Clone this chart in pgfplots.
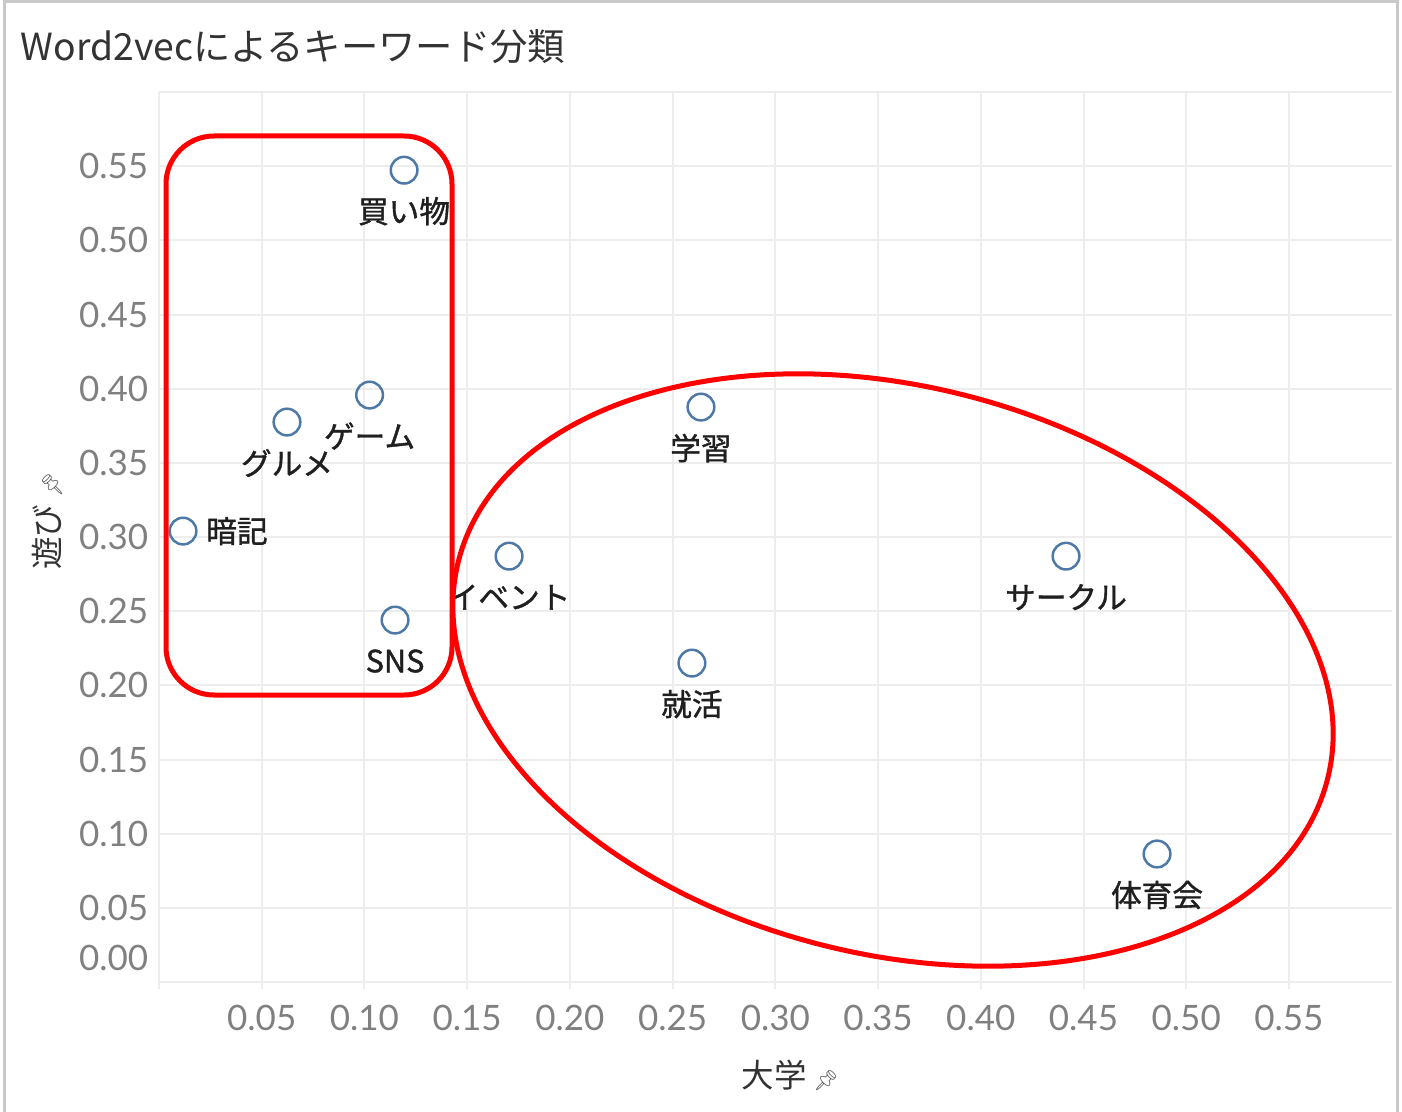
\documentclass[border=0pt]{standalone}
\usepackage{fontspec}
\usepackage{pgfplots}
\usepackage{pgfplotstable}
\pgfplotsset{compat=1.18}
\setmainfont{Noto Sans CJK JP}
\newfontfamily\lblfont{Noto Sans CJK JP}[FakeBold=1.2]
\newfontfamily\numfont{Lato}
\newfontfamily\emojifont{Noto Emoji}

\definecolor{markblue}{HTML}{4E79A7}
\definecolor{tickgray}{HTML}{808080}
\definecolor{gridgray}{HTML}{EDEDED}
\definecolor{framegray}{HTML}{C8C8C8}
\definecolor{titlegray}{HTML}{333333}

% pixel position in the reference -> picture coordinates
\newcommand{\px}[2]{({(#1-159)*0.3pt},{(982-#2)*0.3pt})}

\pgfplotstableread{
x       y       label
0.1193  0.5473  買い物
0.1025  0.3957  ゲーム
0.0623  0.3775  グルメ
0.1149  0.2440  SNS
0.1704  0.2871  イベント
0.2638  0.3876  学習
0.2594  0.2150  就活
0.4415  0.2871  サークル
0.4858  0.0863  体育会
}\below

\pgfplotstableread{
x       y       label
0.0117  0.3040  暗記
}\right

\newcommand{\pin}{{\emojifont\fontsize{6}{6}\selectfont\color{black!65}📌}}

\begin{document}
\begin{tikzpicture}
\useasboundingbox \px{0}{1111} rectangle \px{1402}{0};
% frame
\draw[framegray, line width=0.9pt] \px{5}{1120} -- \px{5}{2} -- \px{1397.5}{2} -- \px{1397.5}{1120};
\node[anchor=west, inner sep=0pt, text=titlegray, font=\fontsize{11.2}{12}\selectfont] at \px{20}{47} {Word2vecによるキーワード分類};

\begin{axis}[
    at={(0,0)}, anchor=south west,
    scale only axis,
    width=369.8pt, height=267pt,
    xmin=0, xmax=0.6, ymin=0, ymax=0.6,
    axis line style={draw=none},
    grid=major,
    grid style={gridgray, line width=0.6pt},
    xtick={0,0.05,0.1,0.15,0.2,0.25,0.3,0.35,0.4,0.45,0.5,0.55},
    xticklabels={,0.05,0.10,0.15,0.20,0.25,0.30,0.35,0.40,0.45,0.50,0.55},
    ytick={0,0.05,0.1,0.15,0.2,0.25,0.3,0.35,0.4,0.45,0.5,0.55,0.6},
    yticklabels={\raisebox{14.4pt}{0.00},0.05,0.10,0.15,0.20,0.25,0.30,0.35,0.40,0.45,0.50,0.55,},
    xtick pos=bottom, ytick pos=left,
    tick align=outside,
    major tick length=2.1pt,
    xtick style={gridgray, line width=0.6pt},
    ytick style={draw=none},
    tick label style={font=\numfont\fontsize{10.5}{11}\selectfont, text=tickgray},
    xticklabel style={yshift=-1.2pt},
    yticklabel style={xshift=2.4pt},
    xlabel={大学\hspace{2pt}\pin},
    ylabel={遊び\hspace{2pt}\pin},
    label style={font=\fontsize{9.75}{11}\selectfont, text=titlegray},
    xlabel style={at={(axis description cs:0.512,-0.1045)}, anchor=center},
    ylabel style={at={(axis description cs:-0.0909,0.518)}, anchor=center},
    clip=false,
]
\addplot[only marks, mark=o, mark size=4pt, mark options={draw=markblue, line width=0.75pt},
    point meta=explicit symbolic,
    nodes near coords,
    nodes near coords style={anchor=center, yshift=-12.3pt, inner sep=0pt,
        font=\lblfont\fontsize{9.2}{10}\selectfont, text=black!88}]
    table[x=x, y=y, meta=label] {\below};
\addplot[only marks, mark=o, mark size=4pt, mark options={draw=markblue, line width=0.75pt},
    point meta=explicit symbolic,
    nodes near coords,
    nodes near coords style={anchor=west, xshift=6.6pt, inner sep=0pt,
        font=\lblfont\fontsize{9.2}{10}\selectfont, text=black!88}]
    table[x=x, y=y, meta=label] {\right};
\end{axis}

% red grouping shapes
\draw[red, line width=1.5pt, rounded corners=14.4pt] \px{166}{695} rectangle \px{452}{136};
\draw[red, line width=1.5pt, rotate around={-14:\px{893}{670}}] \px{893}{670} ellipse [x radius=134.4pt, y radius=85.2pt];
\end{tikzpicture}
\end{document}
